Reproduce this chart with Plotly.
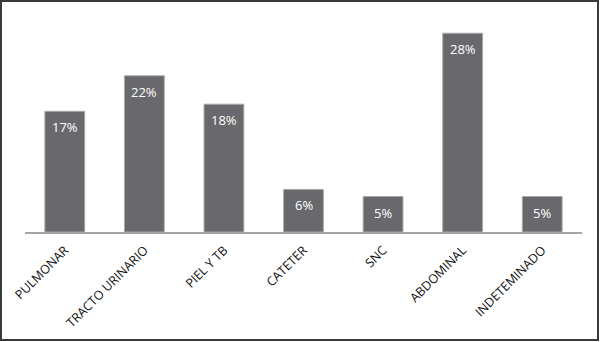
import plotly.graph_objects as go

categories = ["PULMONAR", "TRACTO URINARIO", "PIEL Y TB", "CATETER", "SNC", "ABDOMINAL", "INDETEMINADO"]
values = [17, 22, 18, 6, 5, 28, 5]
labels = [f"{v}%" for v in values]

W, H = 600, 342
ml, mr, mt, mb = 25, 18, 19, 110

fig = go.Figure(go.Bar(
    x=categories, y=values,
    marker=dict(color="#69696d", line=dict(color="#a8a8aa", width=1)),
    hoverinfo="x+y",
))

for c, v, t in zip(categories, values, labels):
    fig.add_annotation(x=c, y=v, text=t, showarrow=False, yanchor="middle", yshift=-16,
                       font=dict(color="white", size=13, family="Open Sans"))

pw = W - ml - mr
ph = H - mt - mb
fig.add_shape(type="rect", xref="paper", yref="paper",
              x0=(1 - ml) / pw, x1=1 + (mr - 2) / pw,
              y0=-(mb - 2) / ph, y1=1 + (mt - 1) / ph,
              line=dict(color="#3a3a3a", width=2), fillcolor="rgba(0,0,0,0)", layer="above")

fig.update_layout(
    width=W, height=H,
    margin=dict(l=ml, r=mr, t=mt, b=mb, autoexpand=False),
    paper_bgcolor="white", plot_bgcolor="white",
    bargap=0.5, showlegend=False,
    font=dict(family="Open Sans", color="#333333"),
    xaxis=dict(tickangle=-45, tickfont=dict(size=12.5, color="#111111", family="Open Sans"),
               showline=True, linecolor="#a6a6a6", linewidth=2, ticks="", showgrid=False,
               automargin=False, ticklabelstandoff=4),
    yaxis=dict(range=[0, 30], visible=False, showgrid=False, zeroline=False, automargin=False),
)

fig.write_html("out.html", config={"displayModeBar": False},
               post_script="document.body.style.margin='0';document.body.style.overflow='hidden';")
